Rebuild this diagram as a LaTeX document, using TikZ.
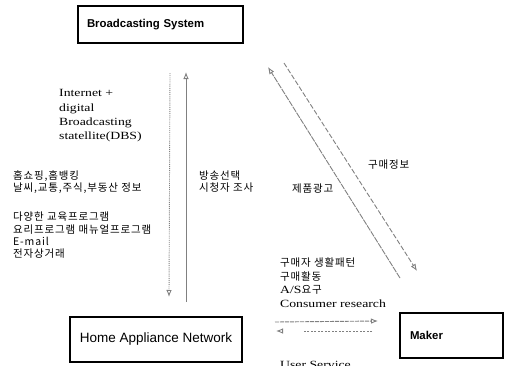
\documentclass[tikz,border=0pt]{standalone}
\usepackage{fontspec}
\setmainfont{Liberation Serif}[FakeStretch=1.25]
\newfontfamily\arialf{Liberation Sans}
\newfontfamily\kr{Noto Sans CJK KR}[LetterSpace=8]
\usetikzlibrary{arrows.meta}
\tikzset{
  boxnode/.style={draw, line width=1.6pt, inner ysep=0pt},
  lat/.style={anchor=west, inner sep=0pt, font=\fontsize{11}{13}\selectfont, text height=7.5pt, text depth=2pt},
  kor/.style={anchor=west, inner sep=0pt, font=\kr\fontsize{10.5}{12}\selectfont, text height=8pt, text depth=2pt},
  flow/.style={draw=black!50, line width=0.9pt},
  tip/.style={-{Latex[open,length=7pt,width=5.5pt]}},
}
\begin{document}
\begin{tikzpicture}[x=1pt,y=-1pt]
\useasboundingbox (0,0) rectangle (507,365);

% boxes
\node[boxnode, minimum width=165pt, minimum height=37pt, text width=147pt, inner xsep=9pt, align=left,
      font=\arialf\bfseries\fontsize{11.4}{13}\selectfont] (bs) at (160.5,24.5) {Broadcasting System};
\node[boxnode, minimum width=172pt, minimum height=45pt, align=center,
      font=\arialf\fontsize{13.5}{15}\selectfont] (han) at (156,339.5) {Home Appliance Network};
\node[boxnode, minimum width=103pt, minimum height=45pt, text width=83pt, inner xsep=10pt, align=left,
      font=\arialf\bfseries\fontsize{11.4}{13}\selectfont] (mk) at (451.5,335.5) {Maker};

% left texts
\node[lat] (t1) at (59,94) {Internet +};
\node[lat] (t2) at (59,109) {digital};
\node[lat] (t3) at (59,123) {Broadcasting};
\node[lat] (t4) at (59,137) {statellite(DBS)};

\node[kor] (k1) at (13,176) {홈쇼핑,홈뱅킹};
\node[kor] (k2) at (13,188) {날씨,교통,주식,부동산 정보};
\node[kor] (k3) at (13,217) {다양한 교육프로그램};
\node[kor] (k4) at (13,230) {요리프로그램 매뉴얼프로그램};
\node[kor] (k5) at (13,242) {E-mail};
\node[kor] (k6) at (13,254) {전자상거래};

\node[kor] (m1) at (199,176) {방송선택};
\node[kor] (m2) at (199,188) {시청자 조사};

\node[kor] (d1) at (292,189) {제품광고};
\node[kor] (d2) at (368,165) {구매정보};

\node[kor] (r1) at (280,263) {구매자 생활패턴};
\node[kor] (r2) at (280,277) {구매활동};
\node[lat] (r3) at (280,291) {A/S{\kr\fontsize{10.5}{12}\selectfont 요구}};
\node[lat] (r4) at (280,305) {Consumer research};
\node[lat] (r5) at (280,366) {User Service};

% vertical connectors
\coordinate (dTop) at (170,73);
\coordinate (dBot) at (169,297);
\draw[flow, densely dotted, tip] (dTop) -- (dBot);
\coordinate (uBot) at (186,302);
\coordinate (uTop) at (186,72);
\draw[flow, tip] (uBot) -- (uTop);

% diagonal connectors
\coordinate (aTop) at (268,67);
\coordinate (aBot) at (400,278);
\draw[flow, dash pattern=on 6pt off 1pt, tip] (aBot) -- (aTop);
\coordinate (bTop) at (284,63);
\coordinate (bBot) at (417,271);
\draw[flow, dash pattern=on 5pt off 2pt, tip] (bTop) -- (bBot);

% horizontal connectors
\coordinate (hA1) at (275,322);
\coordinate (hA2) at (378,321);
\draw[flow, dash pattern=on 4pt off 1pt, tip] (hA1) -- (hA2);
\coordinate (hB1) at (372,331);
\coordinate (hB2) at (276,331);
\draw[flow, dash pattern=on 2pt off 1.5pt on 2pt off 1.5pt on 2pt off 1.5pt on 2pt off 1.5pt on 2pt off 1.5pt on 2pt off 1.5pt on 2pt off 1.5pt on 2pt off 1.5pt on 2pt off 1.5pt on 2pt off 1.5pt on 2pt off 1.5pt on 2pt off 1.5pt on 2pt off 1.5pt on 2pt off 1.5pt on 2pt off 1.5pt on 2pt off 1.5pt on 2pt off 1.5pt on 2pt off 1.5pt on 2pt off 1.5pt on 2pt off 25pt, tip] (hB1) -- (hB2);
\end{tikzpicture}
\end{document}
